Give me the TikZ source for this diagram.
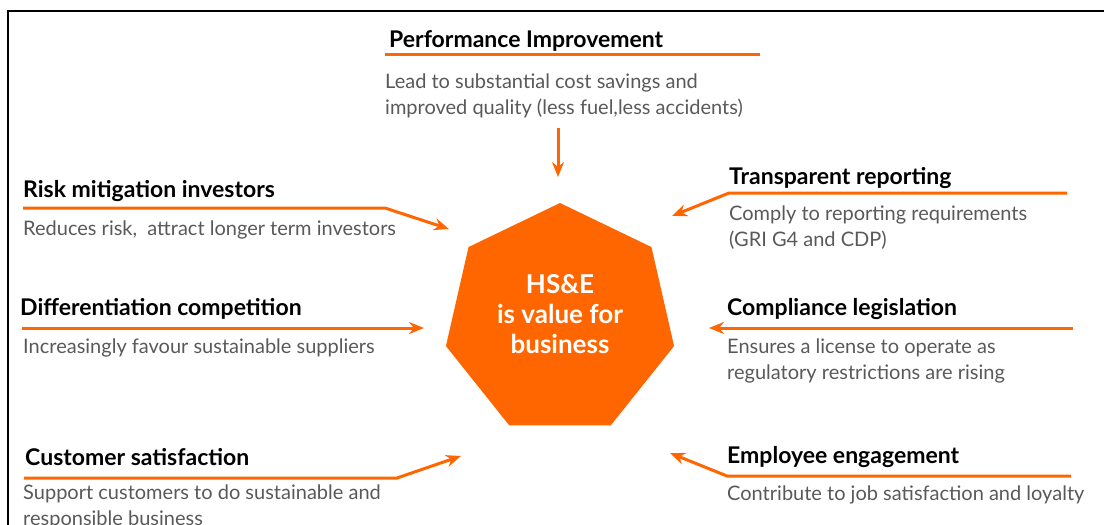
\documentclass[tikz,border=0pt]{standalone}
\usepackage{fontspec}
\setmainfont{Lato}
\usetikzlibrary{shapes.geometric,arrows.meta}
\definecolor{hseorange}{HTML}{FF6600}
\definecolor{bodygray}{HTML}{595959}
\begin{document}
\begin{tikzpicture}[x=1pt,y=-1pt,
  head/.style={anchor=base west,inner sep=0pt,font=\fontsize{23}{27}\selectfont\bfseries},
  body/.style={anchor=base west,inner sep=0pt,align=left,text=bodygray,font=\fontsize{20}{25.5}\selectfont},
  rule/.style={draw=hseorange,line width=3pt},
  link/.style={rule,-{Stealth[length=15pt,width=12pt]}},
  hept/.style={regular polygon,regular polygon sides=7,minimum size=234pt,inner sep=0pt,fill=hseorange},
  centre/.style={align=center,text=white,font=\fontsize{26}{30}\selectfont\bfseries}]
\useasboundingbox (0,0) rectangle (1104,525);
% frame
\draw[line width=2.5pt] (8,525) -- (8,11) -- (1104,11);
% centre
\node[hept] (hse) at (560,320) {};
\node[centre] (val) at (560,314) {HS\&E\\is value for\\business};
% top
\node[head] (perf) at (389,47) {Performance Improvement};
\node[body] (perfTxt) at (385,114) {Lead to substantial cost savings and\\improved quality (less fuel,less accidents)};
\coordinate (p0) at (385,54); \coordinate (p1) at (760,54);
\coordinate (p2) at (558,128); \coordinate (p3) at (558,177);
\draw[rule] (p0) -- (p1);
\draw[link] (p2) -- (p3);
% left side
\node[head] (risk) at (23,197) {Risk mitigation investors};
\node[body] (riskTxt) at (23,235) {Reduces risk,~ attract longer term investors};
\node[head] (diff) at (20,315) {Differentiation competition};
\node[body] (diffTxt) at (23,353) {Increasingly favour sustainable suppliers};
\node[head] (cust) at (25,465) {Customer satisfaction};
\node[body] (custTxt) at (23,525) {Support customers to do sustainable and\\responsible business};
\coordinate (r0) at (23,208); \coordinate (r1) at (385,208); \coordinate (r2) at (449,229);
\coordinate (d0) at (22,328); \coordinate (d1) at (424,328);
\coordinate (c0) at (24,478); \coordinate (c1) at (397,478); \coordinate (c2) at (461,456);
\draw[link] (r0) -- (r1) -- (r2);
\draw[link] (d0) -- (d1);
\draw[link] (c0) -- (c1) -- (c2);
% right side
\node[head] (trans) at (729,184) {Transparent reporting};
\node[body] (transTxt) at (729,246) {Comply to reporting requirements\\(GRI G4 and CDP)};
\node[head] (comp) at (727,315) {Compliance legislation};
\node[body] (compTxt) at (727,379) {Ensures a license to operate as\\regulatory restrictions are rising};
\node[head] (empl) at (727,463) {Employee engagement};
\node[body] (emplTxt) at (727,500) {Contribute to job satisfaction and loyalty};
\coordinate (t0) at (1067,193); \coordinate (t1) at (729,193); \coordinate (t2) at (672,216);
\coordinate (k0) at (1073,328); \coordinate (k1) at (709,328);
\coordinate (e0) at (1071,476); \coordinate (e1) at (727,476); \coordinate (e2) at (670,453);
\draw[link] (t0) -- (t1) -- (t2);
\draw[link] (k0) -- (k1);
\draw[link] (e0) -- (e1) -- (e2);
\end{tikzpicture}
\end{document}
